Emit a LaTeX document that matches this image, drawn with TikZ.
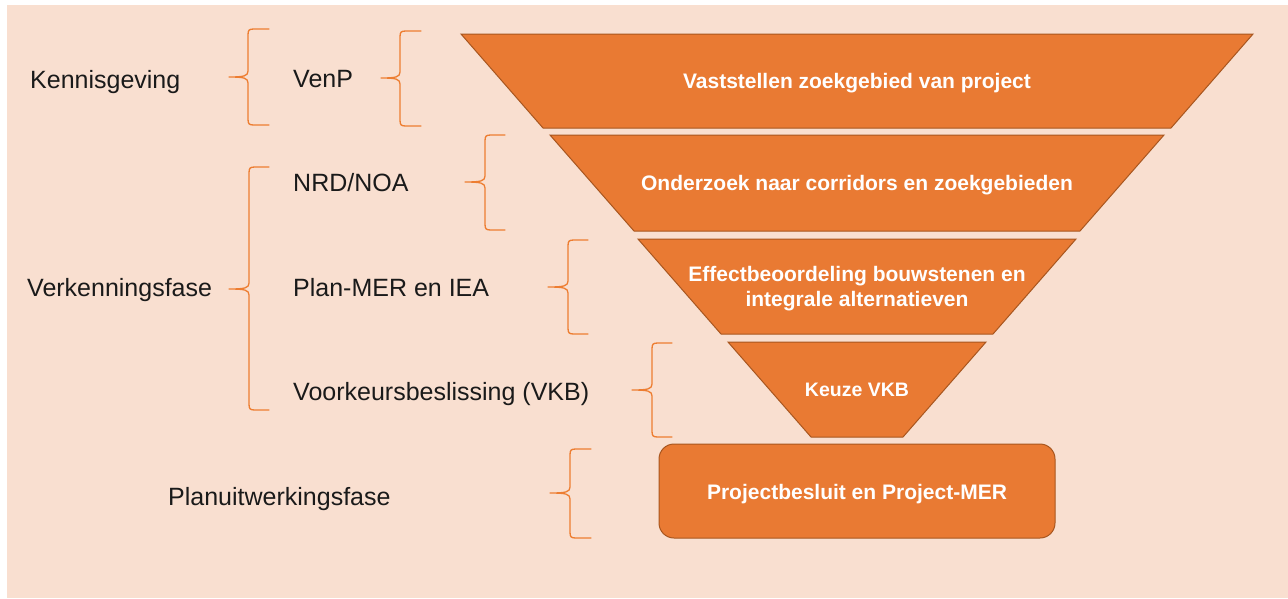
\documentclass[tikz,border=0pt]{standalone}
\usepackage{fontspec}
\setmainfont{Liberation Sans}
\definecolor{peach}{HTML}{F9DFD0}
\definecolor{funnel}{HTML}{E97A33}
\definecolor{funneledge}{HTML}{A8561F}
\definecolor{bracecol}{HTML}{ED7D31}
\definecolor{labelcol}{HTML}{1A1A1A}
\tikzset{
  stage/.style={fill=funnel, draw=funneledge, line width=1pt, line join=miter},
  stagetext/.style={text=white, font=\fontsize{21}{25}\selectfont\bfseries, inner sep=0pt, align=center},
  phaselabel/.style={text=labelcol, font=\fontsize{25}{30}\selectfont, inner sep=0pt, anchor=base west},
  bracestroke/.style={draw=bracecol, line width=1.3pt, line cap=round, line join=round}
}
% left curly brace: #1 tip x, #2 spine x, #3 arm end x, #4 top y, #5 middle y, #6 bottom y
\newcommand{\drawphasebrace}[6]{%
  \draw[bracestroke] (#3,#4) -- ({#2+6},#4) .. controls ({#2+1},#4) and (#2,{#4+1}) .. (#2,{#4+6})
    -- (#2,{#5-6}) .. controls (#2,{#5-1}) and ({#2-4},#5) .. (#1,#5)
    .. controls ({#2-4},#5) and (#2,{#5+1}) .. (#2,{#5+6})
    -- (#2,{#6-6}) .. controls (#2,{#6-1}) and ({#2+1},#6) .. ({#2+6},#6) -- (#3,#6);}
\begin{document}
\begin{tikzpicture}[x=1pt, y=-1pt]
  \useasboundingbox (0,0) rectangle (1288,598);
  \fill[white] (0,0) rectangle (1288,598);
  \fill[peach] (7,5) rectangle (1288,598);

  % funnel stages
  \draw[stage] (461,34) -- (1253,34) -- (1171,128) -- (543,128) -- cycle;
  \draw[stage] (550,135) -- (1164,135) -- (1080,231) -- (634,231) -- cycle;
  \draw[stage] (638,239) -- (1076,239) -- (993,334) -- (721,334) -- cycle;
  \draw[stage] (728,342) -- (986,342) -- (903,437) -- (811,437) -- cycle;
  \draw[stage, rounded corners=15pt] (659,444) rectangle (1055,538);

  \node[stagetext, anchor=base] (s1) at (857,88) {Vaststellen zoekgebied van project};
  \node[stagetext, anchor=base] (s2) at (857,190) {Onderzoek naar corridors en zoekgebieden};
  \node[stagetext, anchor=base] (s3a) at (857,281) {Effectbeoordeling bouwstenen en};
  \node[stagetext, anchor=base] (s3b) at (857,306) {integrale alternatieven};
  \node[stagetext, anchor=base, font=\fontsize{19.5}{24}\selectfont\bfseries] (s4) at (857,396) {Keuze VKB};
  \node[stagetext, anchor=base] (s5) at (857,499) {Projectbesluit en Project-MER};

  % phase and product labels
  \node[phaselabel] (kennis) at (30,88) {Kennisgeving};
  \node[phaselabel] (venp) at (293,87) {VenP};
  \node[phaselabel] (nrd) at (293,191) {NRD/NOA};
  \node[phaselabel] (verk) at (27,296) {Verkenningsfase};
  \node[phaselabel] (planmer) at (293,296) {Plan-MER en IEA};
  \node[phaselabel] (vkb) at (293,400) {Voorkeursbeslissing (VKB)};
  \node[phaselabel] (planuit) at (168,505) {Planuitwerkingsfase};

  % braces
  \drawphasebrace{229}{248}{269}{29}{77}{125}
  \drawphasebrace{381}{400}{421}{31}{78}{126}
  \drawphasebrace{229}{249}{269}{167}{289}{410}
  \drawphasebrace{465}{485}{505}{135}{182}{230}
  \drawphasebrace{548}{568}{588}{240}{287}{334}
  \drawphasebrace{632}{652}{672}{343}{390}{437}
  \drawphasebrace{550}{570}{591}{449}{493}{538}
\end{tikzpicture}
\end{document}
